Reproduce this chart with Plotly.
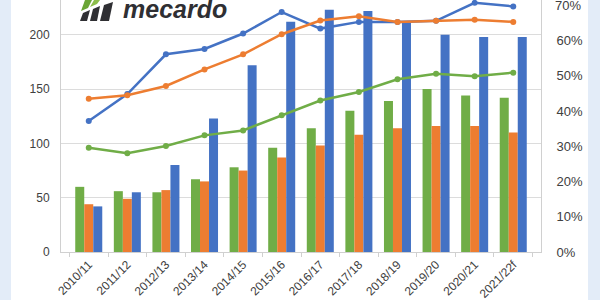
import plotly.graph_objects as go

categories = ["2010/11", "2011/12", "2012/13", "2013/14", "2014/15", "2015/16",
              "2016/17", "2017/18", "2018/19", "2019/20", "2020/21", "2021/22f"]

bar_green = [60, 56, 55, 67, 78, 96, 114, 130, 139, 150, 144, 142]
bar_orange = [44, 49, 57, 65, 75, 87, 98, 108, 114, 116, 116, 110]
bar_blue = [42, 55, 80, 123, 172, 212, 223, 222, 211, 200, 198, 198]

line_blue = [37.2, 44.8, 56.1, 57.6, 62.0, 68.1, 63.4, 65.3, 65.3, 65.6, 70.7, 69.7]
line_orange = [43.5, 44.5, 47.1, 51.8, 56.1, 61.8, 65.7, 66.9, 65.3, 65.6, 65.9, 65.3]
line_green = [29.6, 28.0, 30.1, 33.1, 34.5, 38.8, 43.0, 45.4, 49.0, 50.6, 49.9, 50.9]

right_ticks = [0, 0.1, 0.2, 0.3, 0.4, 0.5, 0.6]
top_right_tick = 0.7

GREEN = "#70ad47"
ORANGE = "#ed7d31"
BLUE = "#4472c4"

fig = go.Figure()
for vals, col in [(bar_green, GREEN), (bar_orange, ORANGE), (bar_blue, BLUE)]:
    fig.add_trace(go.Bar(x=categories, y=vals, marker=dict(color=col, line=dict(width=0)),
                         showlegend=False))
for vals, col in [(line_blue, BLUE), (line_orange, ORANGE), (line_green, GREEN)]:
    fig.add_trace(go.Scatter(x=categories, y=[v / 100 for v in vals], yaxis="y2",
                             mode="lines+markers", line=dict(color=col, width=2.5),
                             marker=dict(color=col, size=6), showlegend=False,
                             cliponaxis=False))

L, R, T, B = 61, 541, 0, 252
W, H = R - L, B - T


def px(x):
    return (x - L) / W


def py(y):
    return (B - y) / H


shapes = [
    dict(type="rect", xref="paper", yref="paper", x0=px(-5), x1=px(11), y0=py(310), y1=py(-10),
         fillcolor="#e3ecf8", line=dict(width=0), layer="below"),
    dict(type="rect", xref="paper", yref="paper", x0=px(588), x1=px(605), y0=py(310), y1=py(-10),
         fillcolor="#e3ecf8", line=dict(width=0), layer="below"),
]


def poly(points, color):
    d = "M " + " L ".join(f"{px(x):.5f},{py(y):.5f}" for x, y in points) + " Z"
    return dict(type="path", xref="paper", yref="paper", path=d, fillcolor=color,
                line=dict(width=0), layer="above")


# logo icon
shapes += [
    poly([(80, 21), (83, 13), (90, 10), (87, 21)], "#2f2f33"),
    poly([(90, 21), (93, 9), (100, 6), (97, 21)], "#2f2f33"),
    poly([(100, 21), (104, 5), (113, 2), (109, 21)], "#2f2f33"),
    poly([(81, 11), (85, 0), (92, 0), (88, 8)], "#6aa535"),
    poly([(90, 7), (94, 0), (100, 0), (97, 4)], "#8bbd4a"),
]

fig.update_layout(
    width=600, height=300,
    margin=dict(l=L, r=600 - R, t=T, b=300 - B),
    paper_bgcolor="white", plot_bgcolor="white",
    barmode="group", bargap=0.3, bargroupgap=0,
    font=dict(family="Liberation Sans, Arial, sans-serif", color="#404040", size=11),
    xaxis=dict(type="category", tickangle=-45, showline=True, linecolor="#d0d0d0",
               ticks="outside", ticklen=4, tickcolor="#d0d0d0", tickson="boundaries",
               tickfont=dict(size=12, color="#404040"), showgrid=False),
    yaxis=dict(range=[0, 252 / 1.086], tickvals=[0, 50, 100, 150, 200], showgrid=True,
               gridcolor="#dcdcdc", gridwidth=1, showline=True, linecolor="#d0d0d0",
               zeroline=False, tickfont=dict(size=12, color="#404040"), ticks="",
               ticklabelstandoff=8),
    yaxis2=dict(range=[0, 252 / 352.4], overlaying="y", side="right",
                tickvals=right_ticks, tickformat=".0%",
                showgrid=False, showline=True, linecolor="#d0d0d0", zeroline=False,
                tickfont=dict(size=13, color="#404040"), ticklabelstandoff=12),
    shapes=shapes,
    annotations=[
        dict(text="<i><b>mecardo</b></i>", xref="paper", yref="paper",
             x=px(121), y=py(25), xanchor="left", yanchor="bottom",
             showarrow=False, font=dict(size=25, color="#2f2f33",
                                        family="Liberation Sans, Arial, sans-serif")),
        dict(text=f"{top_right_tick:.0%}", xref="paper", yref="y2", x=px(553),
             y=top_right_tick, xanchor="left", yanchor="middle", showarrow=False,
             font=dict(size=13, color="#404040")),
    ],
)

fig.write_html("out.html")
